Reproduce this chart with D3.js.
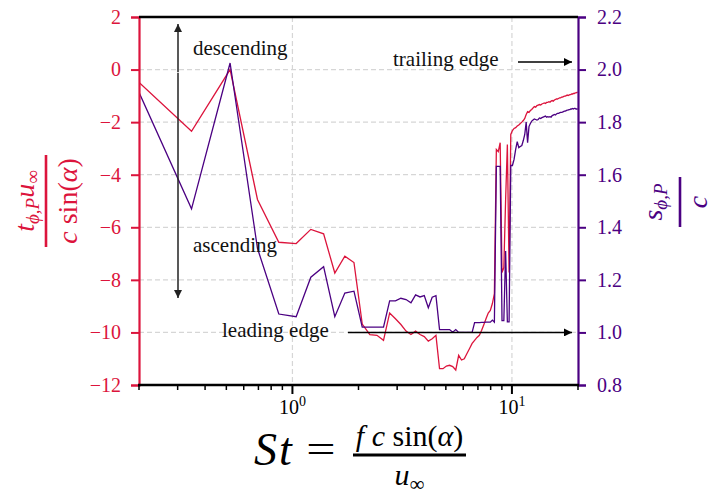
<!DOCTYPE html>
<html lang="en">
<head>
    <meta charset="UTF-8">
    <title>St spectrum - phase delay and distance</title>
    <script src="https://d3js.org/d3.v7.min.js"></script>
    <style>
        body {
            margin: 0;
            padding: 0;
            background: #fff;
            font-family: 'Liberation Serif', 'DejaVu Serif', serif;
        }
        .grid line {
            stroke: #d6d6d6;
            stroke-width: 1.2px;
            stroke-dasharray: 5,3;
        }
        .annot {
            font-size: 21px;
            fill: #111;
        }
    </style>
</head>
<body>
<div id="chart"></div>

<script>
// Strouhal numbers of the spectrum bins
const stValues = [
    0.173, 0.347, 0.520, 0.693, 0.867, 1.040, 1.213, 1.387, 1.560, 1.733,
    1.907, 2.080, 2.253, 2.427, 2.600, 2.773, 2.947, 3.120, 3.293, 3.467,
    3.640, 3.813, 3.987, 4.160, 4.333, 4.507, 4.680, 4.853, 5.027, 5.200,
    5.373, 5.547, 5.720, 5.893, 6.067, 6.240, 6.413, 6.587, 6.760, 6.933,
    7.107, 7.280, 7.453, 7.627, 7.800, 7.973, 8.147, 8.320, 8.493, 8.667,
    8.840, 9.013, 9.187, 9.360, 9.533, 9.707, 9.880, 10.053, 10.227, 10.400,
    10.573, 10.747, 10.920, 11.093, 11.267, 11.440, 11.613, 11.787, 11.960, 12.133,
    12.307, 12.480, 12.653, 12.827, 13.000, 13.173, 13.347, 13.520, 13.693, 13.867,
    14.040, 14.213, 14.387, 14.560, 14.733, 14.907, 15.080, 15.253, 15.427, 15.600,
    15.773, 15.947, 16.120, 16.293, 16.467, 16.640, 16.813, 16.987, 17.160, 17.333,
    17.507, 17.680, 17.853, 18.027, 18.200, 18.373, 18.547, 18.720, 18.893, 19.067,
    19.240, 19.413, 19.587, 19.760, 19.933
];

// normalised phase delay t_phi,P u_inf / (c sin(alpha))  (left axis)
const phaseDelay = [
    0.00, -2.35, 0.00, -4.94, -6.57, -6.62, -6.08, -6.25, -7.74, -7.10,
    -7.34, -9.68, -10.08, -10.11, -10.30, -9.26, -9.48, -9.70, -9.95, -10.08,
    -9.95, -10.08, -10.16, -10.33, -10.24, -10.11, -11.38, -11.38, -11.28, -11.25,
    -11.30, -11.43, -10.87, -11.05, -11.00, -10.80, -10.61, -10.42, -10.30, -10.19,
    -10.11, -9.92, -9.70, -9.47, -9.26, -9.16, -8.90, -8.52, -3.04, -3.12,
    -2.78, -7.72, -7.53, -4.94, -2.85, -7.72, -2.47, -2.32, -2.24, -2.21,
    -2.15, -2.11, -2.05, -2.00, -1.94, -1.86, -1.71, -1.60, -1.63, -1.56,
    -1.52, -1.46, -1.41, -1.43, -1.37, -1.35, -1.33, -1.35, -1.31, -1.29,
    -1.27, -1.29, -1.25, -1.25, -1.22, -1.24, -1.20, -1.18, -1.20, -1.16,
    -1.14, -1.12, -1.12, -1.10, -1.08, -1.08, -1.05, -1.05, -1.03, -1.01,
    -1.01, -0.99, -0.97, -0.99, -0.97, -0.95, -0.95, -0.93, -0.93, -0.91,
    -0.91, -0.89, -0.89, -0.87, -0.87
];

// normalised source distance s_phi,P / c  (right axis)
const sourceDist = [
    2.030, 1.470, 2.025, 1.320, 1.070, 1.060, 1.210, 1.250, 1.060, 1.150,
    1.157, 1.020, 1.020, 1.020, 1.020, 1.120, 1.120, 1.130, 1.125, 1.113,
    1.143, 1.135, 1.140, 1.094, 1.134, 1.140, 1.011, 1.011, 1.011, 1.011,
    1.001, 1.011, 1.000, 1.000, 1.000, 1.000, 1.000, 1.000, 1.037, 1.037,
    1.037, 1.038, 1.038, 1.039, 1.039, 1.039, 1.047, 1.039, 1.632, 1.632,
    1.632, 1.045, 1.045, 1.310, 1.040, 1.040, 1.635, 1.635, 1.658, 1.696,
    1.726, 1.703, 1.707, 1.711, 1.730, 1.753, 1.800, 1.722, 1.783, 1.795,
    1.804, 1.808, 1.812, 1.810, 1.808, 1.810, 1.816, 1.814, 1.817, 1.819,
    1.821, 1.823, 1.819, 1.821, 1.819, 1.821, 1.819, 1.825, 1.827, 1.829,
    1.827, 1.831, 1.833, 1.833, 1.835, 1.837, 1.837, 1.838, 1.840, 1.842,
    1.842, 1.844, 1.846, 1.846, 1.848, 1.848, 1.850, 1.850, 1.852, 1.850,
    1.852, 1.852, 1.850, 1.850, 1.850
];

const leftTicks = [-12, -10, -8, -6, -4, -2, 0, 2];
const rightTicks = [0.8, 1.0, 1.2, 1.4, 1.6, 1.8, 2.0, 2.2];
const xMajorTicks = [1, 10];
const xMajorLabels = ["0", "1"];   // exponents of 10
const xMinorTicks = [0.2, 0.3, 0.4, 0.5, 0.6, 0.7, 0.8, 0.9, 2, 3, 4, 5, 6, 7, 8, 9, 20];

const RED = "#dc143c";
const PURPLE = "#4b0082";

const W = 713, H = 495;
const margin = {left: 139, right: 135, top: 17, bottom: 110};
const plotW = W - margin.left - margin.right;
const plotH = H - margin.top - margin.bottom;

const svg = d3.select("#chart").append("svg")
    .attr("width", W)
    .attr("height", H)
    .style("font-family", "'Liberation Serif', 'DejaVu Serif', serif");

const x = d3.scaleLog().domain([0.2, 20]).range([margin.left, margin.left + plotW]);
const yL = d3.scaleLinear().domain([-12, 2]).range([margin.top + plotH, margin.top]);
const yR = d3.scaleLinear().domain([0.8, 2.2]).range([margin.top + plotH, margin.top]);

// arrow heads
const defs = svg.append("defs");
function addMarker(id, color) {
    defs.append("marker")
        .attr("id", id)
        .attr("viewBox", "0 0 10 10")
        .attr("refX", 10).attr("refY", 5)
        .attr("markerUnits", "userSpaceOnUse")
        .attr("markerWidth", 12).attr("markerHeight", 8)
        .attr("orient", "auto")
        .append("path")
        .attr("d", "M0,0 L10,5 L0,10 z")
        .attr("fill", color);
}
addMarker("arrowBlack", "#000");
addMarker("arrowGrey", "#222");

defs.append("clipPath").attr("id", "plotClip")
    .append("rect")
    .attr("x", margin.left).attr("y", margin.top)
    .attr("width", plotW).attr("height", plotH);

// grid
const grid = svg.append("g").attr("class", "grid");
grid.selectAll(".hg")
    .data(leftTicks.filter(d => d > -12 && d < 2))
    .enter().append("line")
    .attr("x1", margin.left).attr("x2", margin.left + plotW)
    .attr("y1", d => yL(d)).attr("y2", d => yL(d));
grid.selectAll(".vg")
    .data(xMajorTicks)
    .enter().append("line")
    .attr("x1", d => x(d)).attr("x2", d => x(d))
    .attr("y1", margin.top).attr("y2", margin.top + plotH);

// data lines
const lines = svg.append("g").attr("clip-path", "url(#plotClip)");

const redLine = d3.line()
    .x((d, i) => x(stValues[i]))
    .y(d => yL(d));
const purpleLine = d3.line()
    .x((d, i) => x(stValues[i]))
    .y(d => yR(d));

lines.append("path")
    .datum(phaseDelay)
    .attr("d", redLine)
    .attr("fill", "none")
    .attr("stroke", RED)
    .attr("stroke-width", 1.3);

lines.append("path")
    .datum(sourceDist)
    .attr("d", purpleLine)
    .attr("fill", "none")
    .attr("stroke", PURPLE)
    .attr("stroke-width", 1.3);

// left axis
const leftAxis = d3.axisLeft(yL)
    .tickValues(leftTicks)
    .tickSize(8)
    .tickPadding(10)
    .tickFormat(d => d < 0 ? "\u2212" + Math.abs(d) : String(d));
const gL = svg.append("g")
    .attr("transform", `translate(${margin.left},0)`)
    .call(leftAxis);
gL.select(".domain").attr("stroke", RED).attr("stroke-width", 2.2);
gL.selectAll(".tick line").attr("stroke", RED).attr("stroke-width", 2);
gL.selectAll(".tick text")
    .attr("fill", RED)
    .style("font-size", "20px")
    .style("font-family", "'Liberation Serif', serif");

// right axis
const rightAxis = d3.axisRight(yR)
    .tickValues(rightTicks)
    .tickSize(8)
    .tickPadding(11)
    .tickFormat(d3.format(".1f"));
const gR = svg.append("g")
    .attr("transform", `translate(${margin.left + plotW},0)`)
    .call(rightAxis);
gR.select(".domain").attr("stroke", PURPLE).attr("stroke-width", 2.2);
gR.selectAll(".tick line").attr("stroke", PURPLE).attr("stroke-width", 2);
gR.selectAll(".tick text")
    .attr("fill", PURPLE)
    .style("font-size", "20px")
    .style("font-family", "'Liberation Serif', serif");

// bottom axis (log)
const gB = svg.append("g");
gB.append("line")
    .attr("x1", margin.left - 1).attr("x2", margin.left + plotW + 1)
    .attr("y1", margin.top + plotH).attr("y2", margin.top + plotH)
    .attr("stroke", "#000").attr("stroke-width", 2.4);
gB.selectAll(".minor")
    .data(xMinorTicks)
    .enter().append("line")
    .attr("x1", d => x(d)).attr("x2", d => x(d))
    .attr("y1", margin.top + plotH).attr("y2", margin.top + plotH + 5)
    .attr("stroke", "#000").attr("stroke-width", 1.5);
gB.selectAll(".major")
    .data(xMajorTicks)
    .enter().append("line")
    .attr("x1", d => x(d)).attr("x2", d => x(d))
    .attr("y1", margin.top + plotH).attr("y2", margin.top + plotH + 9)
    .attr("stroke", "#000").attr("stroke-width", 2);
const xl = gB.selectAll(".xlab")
    .data(xMajorTicks)
    .enter().append("text")
    .attr("x", d => x(d))
    .attr("y", margin.top + plotH + 29)
    .attr("text-anchor", "middle")
    .style("font-size", "20px");
xl.append("tspan").text("10");
xl.append("tspan")
    .attr("dy", -8)
    .style("font-size", "14px")
    .text((d, i) => xMajorLabels[i]);

// top spine
svg.append("line")
    .attr("x1", margin.left).attr("x2", margin.left + plotW)
    .attr("y1", margin.top).attr("y2", margin.top)
    .attr("stroke", "#000").attr("stroke-width", 2.4);

// annotations
const ann = svg.append("g");
const arrowX = 178;
ann.append("line")
    .attr("x1", arrowX).attr("x2", arrowX)
    .attr("y1", yL(-0.1)).attr("y2", 24)
    .attr("stroke", "#222").attr("stroke-width", 1.5)
    .attr("marker-end", "url(#arrowGrey)");
ann.append("line")
    .attr("x1", arrowX).attr("x2", arrowX)
    .attr("y1", yL(0.1) + 6).attr("y2", 298)
    .attr("stroke", "#222").attr("stroke-width", 1.5)
    .attr("marker-end", "url(#arrowGrey)");
ann.append("text").attr("class", "annot")
    .attr("x", 193).attr("y", 55).text("descending");
ann.append("text").attr("class", "annot")
    .attr("x", 193).attr("y", 252).text("ascending");
ann.append("text").attr("class", "annot")
    .attr("x", 222).attr("y", 337).text("leading edge");
ann.append("line")
    .attr("x1", 348).attr("x2", 572)
    .attr("y1", yR(1.0)).attr("y2", yR(1.0))
    .attr("stroke", "#000").attr("stroke-width", 1.5)
    .attr("marker-end", "url(#arrowBlack)");
ann.append("text").attr("class", "annot")
    .attr("x", 393).attr("y", 66).text("trailing edge");
ann.append("line")
    .attr("x1", 518).attr("x2", 572)
    .attr("y1", 62).attr("y2", 62)
    .attr("stroke", "#000").attr("stroke-width", 1.5)
    .attr("marker-end", "url(#arrowBlack)");

// left axis label:  t_{phi,P} u_inf / (c sin(alpha))
const yl = svg.append("g")
    .attr("transform", "translate(46,201) rotate(-90)")
    .attr("fill", RED);
yl.append("line")
    .attr("x1", -46).attr("x2", 46).attr("y1", 0).attr("y2", 0)
    .attr("stroke", RED).attr("stroke-width", 2.6);
const num = yl.append("text")
    .attr("x", 0).attr("y", -12)
    .attr("text-anchor", "middle")
    .style("font-size", "28px");
num.append("tspan").style("font-style", "italic").text("t");
num.append("tspan").style("font-style", "italic").style("font-size", "19px").attr("dy", 5).text("\u03d5,P");
num.append("tspan").style("font-style", "italic").attr("dy", -5).text("u");
num.append("tspan").style("font-size", "19px").attr("dy", 5).text("\u221e");
const den = yl.append("text")
    .attr("x", 0).attr("y", 31)
    .attr("text-anchor", "middle")
    .style("font-size", "28px");
den.append("tspan").style("font-style", "italic").text("c");
den.append("tspan").text(" sin(");
den.append("tspan").style("font-style", "italic").text("\u03b1");
den.append("tspan").text(")");

// right axis label:  s_{phi,P} / c
const yr = svg.append("g")
    .attr("transform", "translate(680,202) rotate(-90)")
    .attr("fill", PURPLE);
yr.append("line")
    .attr("x1", -25).attr("x2", 25).attr("y1", 0).attr("y2", 0)
    .attr("stroke", PURPLE).attr("stroke-width", 2.6);
const rnum = yr.append("text")
    .attr("x", 0).attr("y", -18)
    .attr("text-anchor", "middle")
    .style("font-size", "28px");
rnum.append("tspan").style("font-style", "italic").text("s");
rnum.append("tspan").style("font-style", "italic").style("font-size", "19px").attr("dy", 5).text("\u03d5,P");
yr.append("text")
    .attr("x", 0).attr("y", 27)
    .attr("text-anchor", "middle")
    .style("font-size", "28px")
    .style("font-style", "italic")
    .text("c");

// x axis label:  St = f c sin(alpha) / u_inf
const xlab = svg.append("g").attr("fill", "#000");
xlab.append("text")
    .attr("x", 254).attr("y", 465)
    .style("font-size", "46px")
    .style("font-style", "italic")
    .attr("letter-spacing", "2px")
    .text("St");
xlab.append("text")
    .attr("x", 321).attr("y", 463)
    .attr("text-anchor", "middle")
    .style("font-size", "40px")
    .attr("transform", "translate(321,0) scale(1.3,1) translate(-321,0)")
    .text("=");
xlab.append("line")
    .attr("x1", 353).attr("x2", 466)
    .attr("y1", 455).attr("y2", 455)
    .attr("stroke", "#000").attr("stroke-width", 2.8);
const xnum = xlab.append("text")
    .attr("x", 409.5).attr("y", 446)
    .attr("text-anchor", "middle")
    .style("font-size", "30px");
xnum.append("tspan").style("font-style", "italic").text("f c");
xnum.append("tspan").text(" sin(");
xnum.append("tspan").style("font-style", "italic").text("\u03b1");
xnum.append("tspan").text(")");
const xden = xlab.append("text")
    .attr("x", 409.5).attr("y", 485)
    .attr("text-anchor", "middle")
    .style("font-size", "30px");
xden.append("tspan").style("font-style", "italic").text("u");
xden.append("tspan").style("font-size", "21px").attr("dy", 6).text("\u221e");
</script>
</body>
</html>
